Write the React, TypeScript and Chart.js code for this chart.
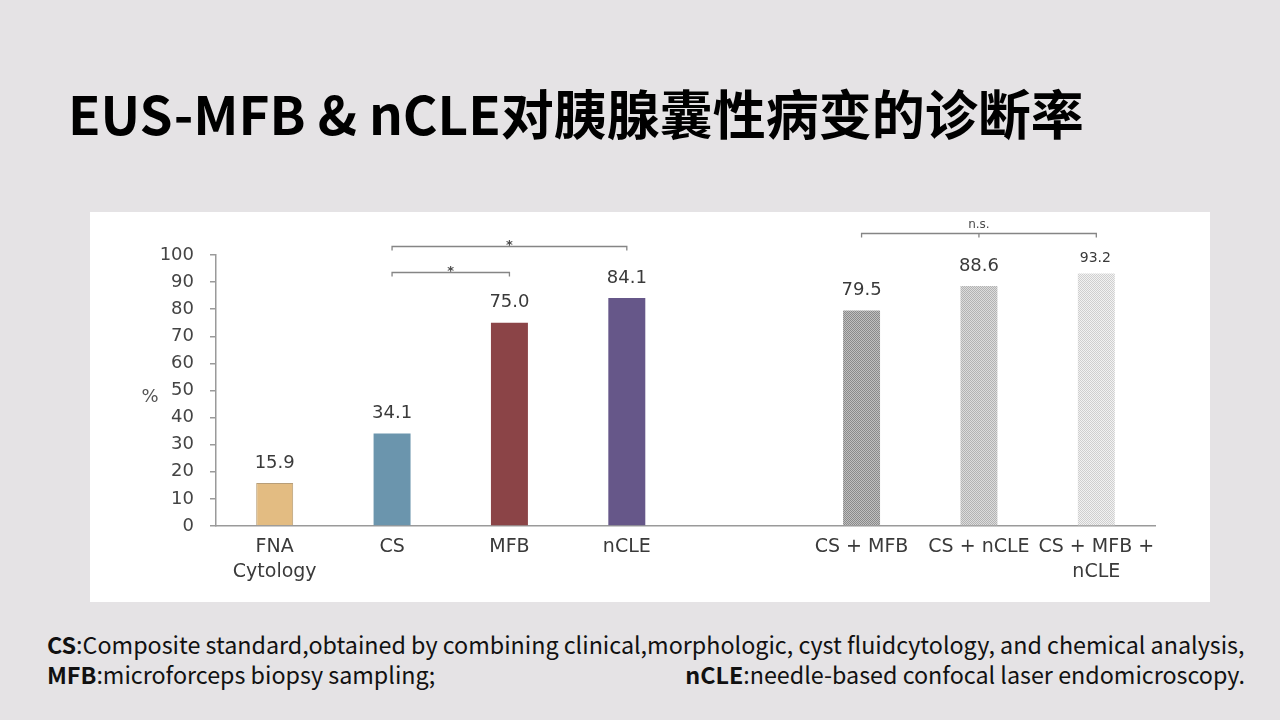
import React, { useEffect, useRef } from "react";
import { Chart, registerables } from "chart.js";

Chart.register(...registerables);

// ---- data ----
const categories: (string | string[])[] = [
  ["FNA", "Cytology"],
  "CS",
  "MFB",
  "nCLE",
  "",
  "CS + MFB",
  "CS + nCLE",
  ["CS + MFB +", "nCLE"],
];
const values: (number | null)[] = [15.9, 34.1, 75.0, 84.1, null, 79.5, 88.6, 93.2];
const yTicks = [0, 10, 20, 30, 40, 50, 60, 70, 80, 90, 100];
const comparisonFrom = [1, 1, 5];
const comparisonTo = [3, 2, 7];
const comparisonMid: (number | null)[] = [null, null, 6];
const comparisonLevel = [103.3, 93.8, 108.3];
const comparisonLabel = ["*", "*", "n.s."];

const TITLE = "EUS-MFB & nCLE对胰腺囊性病变的诊断率";

function makePattern(a: string, b: string): CanvasPattern | string {
  const c = document.createElement("canvas");
  c.width = 2;
  c.height = 2;
  const g = c.getContext("2d");
  if (!g) return a;
  g.fillStyle = a;
  g.fillRect(0, 0, 2, 2);
  g.fillStyle = b;
  g.fillRect(0, 0, 1, 1);
  g.fillRect(1, 1, 1, 1);
  const p = g.createPattern(c, "repeat");
  return p || a;
}

const FONT = "'DejaVu Sans', sans-serif";
const TEXT_COLOR = "#3a3a3a";

const valueLabelPlugin = {
  id: "valueLabels",
  afterDatasetsDraw(chart: any) {
    const ctx = chart.ctx;
    const meta = chart.getDatasetMeta(0);
    ctx.save();
    ctx.textAlign = "center";
    ctx.textBaseline = "middle";
    ctx.fillStyle = TEXT_COLOR;
    meta.data.forEach((el: any, i: number) => {
      const v = values[i];
      if (v === null || v === undefined) return;
      const small = i === 7;
      ctx.font = `${small ? 14 : 18}px ${FONT}`;
      ctx.fillText(v.toFixed(1), el.x - (small ? 1 : 0), el.y - (small ? 15 : 20));
    });
    ctx.restore();
  },
};

const bracketPlugin = {
  id: "brackets",
  afterDraw(chart: any) {
    const ctx = chart.ctx;
    const xs = chart.scales.x;
    const ys = chart.scales.y;
    ctx.save();
    ctx.strokeStyle = "#858585";
    ctx.lineWidth = 1.3;
    ctx.fillStyle = "#4a4a4a";
    ctx.textAlign = "center";
    for (let k = 0; k < comparisonFrom.length; k++) {
      const x1 = xs.getPixelForValue(comparisonFrom[k]);
      const x2 = xs.getPixelForValue(comparisonTo[k]);
      const y = Math.round(ys.getPixelForValue(comparisonLevel[k])) + 0.5;
      ctx.beginPath();
      ctx.moveTo(x1, y + 4);
      ctx.lineTo(x1, y);
      ctx.lineTo(x2, y);
      ctx.lineTo(x2, y + 4);
      const m = comparisonMid[k];
      if (m !== null) {
        const xm = xs.getPixelForValue(m);
        ctx.moveTo(xm, y);
        ctx.lineTo(xm, y + 4);
      }
      ctx.stroke();
      const lbl = comparisonLabel[k];
      if (lbl === "*") {
        ctx.font = `bold 13px ${FONT}`;
        ctx.textBaseline = "alphabetic";
        ctx.fillText(lbl, (x1 + x2) / 2, y + 2);
      } else {
        ctx.font = `12px ${FONT}`;
        ctx.textBaseline = "middle";
        ctx.fillText(lbl, (x1 + x2) / 2, y - 9);
      }
    }
    // y-axis unit label
    ctx.font = `18px ${FONT}`;
    ctx.textBaseline = "middle";
    ctx.fillStyle = "#555";
    ctx.fillText("%", 60, ys.getPixelForValue(50) + 7);
    ctx.restore();
  },
};

function BarChart() {
  const ref = useRef<HTMLCanvasElement | null>(null);
  useEffect(() => {
    if (!ref.current) return;
    const colors = [
      "#e3bc82",
      "#6b95ad",
      "#8b4447",
      "#665789",
      "#ffffff",
      makePattern("#c0c0c0", "#8a8a8a"),
      makePattern("#dcdcdc", "#b3b3b3"),
      makePattern("#f2f2f2", "#cfcfcf"),
    ];
    const borders = ["#b89e78", "rgba(0,0,0,0)", "rgba(0,0,0,0)", "rgba(0,0,0,0)", "rgba(0,0,0,0)", "rgba(0,0,0,0)", "rgba(0,0,0,0)", "rgba(0,0,0,0)"];
    const chart = new Chart(ref.current, {
      type: "bar",
      data: {
        labels: categories as any,
        datasets: [
          {
            data: values as any,
            backgroundColor: colors as any,
            borderColor: borders,
            borderWidth: [1, 0, 0, 0, 0, 0, 0, 0] as any,
            categoryPercentage: 1,
            barPercentage: 0.315,
          },
        ],
      },
      options: {
        animation: false,
        responsive: false,
        events: [],
        layout: { padding: { top: 43, right: 55, left: 0, bottom: 0 } },
        plugins: {
          legend: { display: false },
          tooltip: { enabled: false },
          title: { display: false },
        },
        scales: {
          x: {
            afterFit(scale: any) {
              scale.height = 76;
            },
            grid: { display: true, drawOnChartArea: false, drawTicks: false },
            border: { display: true, color: "#9a9a9a", width: 1.5 },
            ticks: {
              color: TEXT_COLOR,
              font: { family: FONT, size: 19, lineHeight: 1.3 },
              padding: 9,
              maxRotation: 0,
              autoSkip: false,
            },
          },
          y: {
            min: 0,
            max: 100,
            afterFit(scale: any) {
              scale.width = 126;
            },
            afterBuildTicks(scale: any) {
              scale.ticks = yTicks.map((v) => ({ value: v }));
            },
            grid: {
              display: true,
              drawOnChartArea: false,
              drawTicks: true,
              tickLength: 6,
              color: "#9a9a9a",
              lineWidth: 1.5,
            },
            border: { display: true, color: "#9a9a9a", width: 1.5 },
            ticks: {
              color: "#444",
              font: { family: FONT, size: 18 },
              padding: 16,
            },
          },
        },
      },
      plugins: [valueLabelPlugin, bracketPlugin],
    });
    return () => chart.destroy();
  }, []);
  return <canvas ref={ref} width={1120} height={390} style={{ display: "block" }} />;
}

export default function App() {
  return (
    <div
      style={{
        position: "fixed",
        left: 0,
        top: 0,
        width: 1280,
        height: 720,
        background: "#e5e3e5",
        overflow: "hidden",
      }}
    >
      <div
        style={{
          position: "absolute",
          left: 68,
          top: 80,
          fontFamily: "'Noto Sans CJK SC', sans-serif",
          fontWeight: 700,
          fontSize: 53,
          lineHeight: "64px",
          color: "#000",
          whiteSpace: "nowrap",
        }}
      >
        {TITLE}
      </div>
      <div
        style={{
          position: "absolute",
          left: 90,
          top: 212,
          width: 1120,
          height: 390,
          background: "#ffffff",
        }}
      >
        <BarChart />
      </div>
      <div
        style={{
          position: "absolute",
          left: 47,
          top: 629,
          width: 1198,
          fontFamily: "'Noto Sans CJK SC', sans-serif",
          fontSize: 23.3,
          lineHeight: "30px",
          color: "#111",
          whiteSpace: "nowrap",
        }}
      >
        <div>
          <b>CS</b>:Composite standard,obtained by combining clinical,morphologic, cyst fluidcytology, and chemical analysis,
        </div>
        <div style={{ display: "flex", justifyContent: "space-between" }}>
          <span>
            <b>MFB</b>:microforceps biopsy sampling;
          </span>
          <span>
            <b>nCLE</b>:needle-based confocal laser endomicroscopy.
          </span>
        </div>
      </div>
    </div>
  );
}
